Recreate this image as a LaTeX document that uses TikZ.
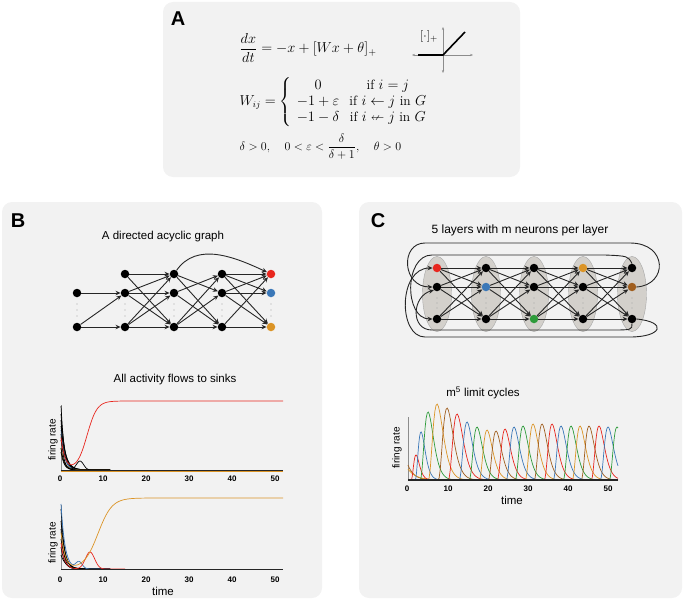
\documentclass[tikz,border=0pt]{standalone}
\usepackage{amsmath}
\usepackage{amssymb}
\usepackage{fontspec}
\setsansfont{Liberation Sans}
\usetikzlibrary{arrows.meta,shapes.geometric}

\definecolor{panelgray}{HTML}{F2F2F2}
\definecolor{layergray}{HTML}{D3D0CB}
\definecolor{sinkred}{HTML}{E8261E}
\definecolor{sinkblue}{HTML}{3B78B8}
\definecolor{sinkorange}{HTML}{DB9426}
\definecolor{cgreen}{HTML}{2E9B3A}
\definecolor{cbrown}{HTML}{A05E1E}

\begin{document}
\begin{tikzpicture}[x=1pt,y=-1pt,>={Stealth[length=5pt,width=4.5pt]},
  declare function={pulse(\t,\p,\h,\w)=\h*((\t-\p+\w)/\w)*((\t-\p+\w)/\w)*((\t-\p+\w)/\w)*exp(3-3*(\t-\p+\w)/\w);},
  panel/.style={fill=panelgray,rounded corners=10pt},
  tag/.style={font=\sffamily\bfseries\fontsize{20}{20}\selectfont},
  title/.style={font=\sffamily\fontsize{11.5}{13}\selectfont},
  tick/.style={font=\sffamily\bfseries\fontsize{8}{9}\selectfont,inner sep=0pt},
  axlabel/.style={font=\sffamily\fontsize{10}{11}\selectfont,inner sep=0pt},
  neuron/.style={circle,fill=black,inner sep=0pt,minimum size=8.5pt},
  layer/.style={draw=black!35,fill=layergray},
  dotsv/.style={fill=black!35},
  syn/.style={->,draw=black!85,line width=0.9pt},
  trace/.style={line width=0.7pt}]
\useasboundingbox (0,0) rectangle (685,602);

% panels
\fill[panel] (163,2) rectangle (520,177);
\fill[panel] (2,202) rectangle (322,598);
\fill[panel] (359,202) rectangle (682,598);
\node[tag] (tagA) at (178,19) {A};
\node[tag] (tagB) at (18,221) {B};
\node[tag] (tagC) at (378,221) {C};

% A: model
\node[anchor=west,font=\fontsize{14.5}{17}\selectfont] (ode) at (236,48) {$\displaystyle\frac{dx}{dt}=-x+[Wx+\theta]_+$};
\node[anchor=west,font=\fontsize{13.5}{16}\selectfont] (wij) at (236,102) {$W_{ij}=\left\{\begin{array}{cc} 0 & \text{if } i=j\\ -1+\varepsilon & \text{if } i\leftarrow j\text{ in } G\\ -1-\delta & \text{if } i\nleftarrow j\text{ in } G\end{array}\right.$};
\node[anchor=west,font=\fontsize{12.5}{14}\selectfont] (cond) at (236,147) {$\delta>0,\quad 0<\varepsilon<\dfrac{\delta}{\delta+1},\quad \theta>0$};
\draw[black!45,line width=0.6pt,{Stealth[length=3pt]}-{Stealth[length=3pt]}] (412,55) -- (473,55);
\draw[black!45,line width=0.6pt,{Stealth[length=3pt]}-{Stealth[length=3pt]}] (443,27) -- (443,73);
\draw[black,line width=1.6pt] (418,55) -- (443,55) -- (465,32);
\node[font=\fontsize{13}{14}\selectfont] (relu) at (429,37) {$[\cdot]_+$};

% B: graph
\node[title] (gtitle) at (163,237) {A directed acyclic graph};
\node[neuron] (g1a) at (77,293) {};
\node[neuron] (g1c) at (77,327) {};
\node[neuron] (g2a) at (125,274) {};
\node[neuron] (g2b) at (125,293) {};
\node[neuron] (g2c) at (125,327) {};
\node[neuron] (g3a) at (174,274) {};
\node[neuron] (g3b) at (174,293) {};
\node[neuron] (g3c) at (174,327) {};
\node[neuron] (g4a) at (222,274) {};
\node[neuron] (g4b) at (222,293) {};
\node[neuron] (g4c) at (222,327) {};
\node[neuron,fill=sinkred] (g5a) at (271,274) {};
\node[neuron,fill=sinkblue] (g5b) at (271,293) {};
\node[neuron,fill=sinkorange] (g5c) at (271,327) {};
\fill[dotsv] (77,304) circle (0.7) (77,310) circle (0.7) (77,316) circle (0.7);
\fill[dotsv] (125,304) circle (0.7) (125,310) circle (0.7) (125,316) circle (0.7);
\fill[dotsv] (174,304) circle (0.7) (174,310) circle (0.7) (174,316) circle (0.7);
\fill[dotsv] (222,304) circle (0.7) (222,310) circle (0.7) (222,316) circle (0.7);
\fill[dotsv] (271,304) circle (0.7) (271,310) circle (0.7) (271,316) circle (0.7);
\draw (g1a) edge[syn] (g2b);
\draw (g1c) edge[syn] (g2b) edge[syn] (g2c);
\draw (g2a) edge[syn] (g3a) edge[syn] (g3c);
\draw (g2b) edge[syn] (g3a) edge[syn] (g3b) edge[syn] (g3c);
\draw (g2c) edge[syn] (g3a) edge[syn] (g3b) edge[syn] (g3c);
\draw (g3a) edge[syn] (g4b) edge[syn] (g4c) edge[syn,out=55,in=155] (g5a);
\draw (g3b) edge[syn] (g4a) edge[syn] (g4c);
\draw (g3c) edge[syn] (g4a) edge[syn] (g4b) edge[syn] (g4c);
\draw (g4a) edge[syn] (g5a) edge[syn] (g5b) edge[syn] (g5c);
\draw (g4b) edge[syn] (g5a) edge[syn] (g5b) edge[syn] (g5c);
\draw (g4c) edge[syn] (g5a) edge[syn] (g5c);

% B: sink dynamics, top
\node[title] (stitle) at (175,380) {All activity flows to sinks};
\draw[black!45,line width=0.8pt] (61,405) -- (61,470);
\node[axlabel,rotate=90] (fr1) at (53,440) {firing rate};
\draw[trace,black] plot[domain=61:110,samples=40] (\x,{470-64*exp(-(\x-61)/3.2)});
\draw[trace,black] plot[domain=61:110,samples=40] (\x,{470-56*exp(-(\x-61)/3.8)});
\draw[trace,black] plot[domain=61:110,samples=40] (\x,{470-50*exp(-(\x-61)/3)});
\draw[trace,sinkblue] plot[domain=61:110,samples=40] (\x,{470-40*exp(-(\x-61)/3.4)});
\draw[trace,black] plot[domain=61:110,samples=40] (\x,{470-44*exp(-(\x-61)/4.5)});
\draw[trace,black] plot[domain=61:110,samples=40] (\x,{470-30*exp(-(\x-61)/5)});
\draw[trace,sinkorange] plot[domain=61:110,samples=40] (\x,{470-22*exp(-(\x-61)/3.5)});
\draw[trace,black] plot[domain=61:110,samples=40] (\x,{470-36*exp(-(\x-61)/2.6)});
\draw[trace,black] plot[domain=61:110,samples=40] (\x,{470-18*exp(-(\x-61)/3)});
\draw[trace,black] plot[domain=61:110,samples=40] (\x,{470-22*exp(-(\x-61)/3)-9*exp(-((\x-80)/5)^2)});
\draw[trace,sinkred] plot[domain=61:150,samples=80] (\x,{470-69/(1+exp(-(\x-87)/5))-32*exp(-(\x-61)/4)}) -- (283,401);
\draw[sinkorange,line width=0.8pt] (61,471) -- (283,471);
\draw[black!85,line width=1pt] (61,470) -- (283,470);
\node[tick] (t10) at (60,479) {0};
\node[tick] (t11) at (103,479) {10};
\node[tick] (t12) at (146,479) {20};
\node[tick] (t13) at (189,479) {30};
\node[tick] (t14) at (232,479) {40};
\node[tick] (t15) at (275,479) {50};

% B: sink dynamics, bottom
\draw[black!45,line width=0.8pt] (61,505) -- (61,569);
\node[axlabel,rotate=90] (fr2) at (53,543) {firing rate};
\draw[trace,black] plot[domain=61:110,samples=40] (\x,{569-60*exp(-(\x-61)/3.3)});
\draw[trace,black] plot[domain=61:110,samples=40] (\x,{569-48*exp(-(\x-61)/3.8)});
\draw[trace,black] plot[domain=61:110,samples=40] (\x,{569-40*exp(-(\x-61)/3)});
\draw[trace,black] plot[domain=61:110,samples=40] (\x,{569-30*exp(-(\x-61)/4.5)});
\draw[trace,black] plot[domain=61:110,samples=40] (\x,{569-22*exp(-(\x-61)/3.5)});
\draw[trace,black] plot[domain=61:110,samples=40] (\x,{569-14*exp(-(\x-61)/5)});
\draw[trace,sinkblue] plot[domain=61:110,samples=50] (\x,{569-65*exp(-(\x-61)/4)-7*exp(-((\x-79)/4.5)^2)});
\draw[trace,sinkred] plot[domain=61:125,samples=60] (\x,{569-17*exp(-((\x-90)/6.5)^2)-26*exp(-(\x-61)/3.5)});
\draw[trace,sinkorange] plot[domain=61:150,samples=80] (\x,{569-71/(1+exp(-(\x-98)/7))-36*exp(-(\x-61)/4)}) -- (283,498);
\draw[black!85,line width=1pt] (61,569) -- (283,569);
\node[tick] (t20) at (60,580) {0};
\node[tick] (t21) at (103,580) {10};
\node[tick] (t22) at (146,580) {20};
\node[tick] (t23) at (189,580) {30};
\node[tick] (t24) at (232,580) {40};
\node[tick] (t25) at (275,580) {50};
\node[title] (time1) at (163,591) {time};

% C: layered graph
\node[title,font=\sffamily\fontsize{12}{14}\selectfont] (ctitle) at (520,230) {5 layers with m neurons per layer};
\filldraw[layer] (437,294) ellipse [x radius=14.5, y radius=37.5];
\filldraw[layer] (486,294) ellipse [x radius=14.5, y radius=37.5];
\filldraw[layer] (534,294) ellipse [x radius=14.5, y radius=37.5];
\filldraw[layer] (583,294) ellipse [x radius=14.5, y radius=37.5];
\filldraw[layer] (632,294) ellipse [x radius=14.5, y radius=37.5];
\fill[dotsv] (437,298) circle (0.6) (437,303) circle (0.6) (437,308) circle (0.6);
\fill[dotsv] (486,298) circle (0.6) (486,303) circle (0.6) (486,308) circle (0.6);
\fill[dotsv] (534,298) circle (0.6) (534,303) circle (0.6) (534,308) circle (0.6);
\fill[dotsv] (583,298) circle (0.6) (583,303) circle (0.6) (583,308) circle (0.6);
\fill[dotsv] (632,298) circle (0.6) (632,303) circle (0.6) (632,308) circle (0.6);
\node[neuron,fill=sinkred] (c1a) at (437,268) {};
\node[neuron] (c1b) at (437,287) {};
\node[neuron] (c1c) at (437,319) {};
\node[neuron] (c2a) at (486,268) {};
\node[neuron,fill=sinkblue] (c2b) at (486,287) {};
\node[neuron] (c2c) at (486,319) {};
\node[neuron] (c3a) at (534,268) {};
\node[neuron] (c3b) at (534,287) {};
\node[neuron,fill=cgreen] (c3c) at (534,319) {};
\node[neuron,fill=sinkorange] (c4a) at (583,268) {};
\node[neuron] (c4b) at (583,287) {};
\node[neuron] (c4c) at (583,319) {};
\node[neuron] (c5a) at (632,268) {};
\node[neuron,fill=cbrown] (c5b) at (632,287) {};
\node[neuron] (c5c) at (632,319) {};
\draw (c1a) edge[syn] (c2a) edge[syn] (c2b) edge[syn] (c2c);
\draw (c1b) edge[syn] (c2a) edge[syn] (c2b) edge[syn] (c2c);
\draw (c1c) edge[syn] (c2a) edge[syn] (c2b) edge[syn] (c2c);
\draw (c2a) edge[syn] (c3a) edge[syn] (c3b) edge[syn] (c3c);
\draw (c2b) edge[syn] (c3a) edge[syn] (c3b) edge[syn] (c3c);
\draw (c2c) edge[syn] (c3a) edge[syn] (c3b) edge[syn] (c3c);
\draw (c3a) edge[syn] (c4a) edge[syn] (c4b) edge[syn] (c4c);
\draw (c3b) edge[syn] (c4a) edge[syn] (c4b) edge[syn] (c4c);
\draw (c3c) edge[syn] (c4a) edge[syn] (c4b) edge[syn] (c4c);
\draw (c4a) edge[syn] (c5a) edge[syn] (c5b) edge[syn] (c5c);
\draw (c4b) edge[syn] (c5a) edge[syn] (c5b) edge[syn] (c5c);
\draw (c4c) edge[syn] (c5a) edge[syn] (c5b) edge[syn] (c5c);
% last layer feeds back to the first
\draw[syn] (c5b.east) .. controls (668,285) and (668,243) .. (630,243) -- (425,243) .. controls (400,243) and (402,287) .. (c1b.west);
\draw[syn] (c5a.north) .. controls (628,256) .. (605,255) -- (432,255) .. controls (404,255) and (404,319) .. (c1c.west);
\draw[syn] (c5c.east) .. controls (668,322) and (662,337) .. (630,337) -- (425,337) .. controls (398,337) and (398,268) .. (c1a.west);
\draw[syn] (c5c.south) .. controls (632,330) .. (610,330) -- (432,330) .. controls (410,330) and (412,296) .. (c1b.south west);

% C: limit cycles
\node[title] (ptitle) at (483,393) {m\textsuperscript{5} limit cycles};
\draw[black!45,line width=0.8pt] (408,417) -- (408,480);
\node[axlabel,rotate=90] (fr3) at (397,448) {firing rate};
\draw[trace,cbrown] plot[domain=408:445,samples=30] (\x,{480-15*exp(-(\x-408)/6)});
\draw[trace,sinkorange] plot[domain=408:445,samples=30] (\x,{480-11*exp(-(\x-408)/8)});
\draw[trace,sinkred] plot[domain=411:431,samples=40] (\x,{480-pulse(\x,416,25,5)});
\draw[trace,sinkblue] plot[domain=415:445,samples=40] (\x,{480-pulse(\x,421,48,6)});
\draw[trace,cgreen] plot[domain=420:460,samples=40] (\x,{480-pulse(\x,428,68,8)});
\draw[trace,sinkorange] plot[domain=428:473,samples=40] (\x,{480-pulse(\x,437,76,9)});
\draw[trace,cbrown] plot[domain=438:483,samples=40] (\x,{480-pulse(\x,447,72,9)});
\draw[trace,sinkred] plot[domain=448:493,samples=40] (\x,{480-pulse(\x,457,66,9)});
\draw[trace,sinkblue] plot[domain=459:499,samples=40] (\x,{480-pulse(\x,467,58,8)});
\draw[trace,cgreen] plot[domain=469:509,samples=40] (\x,{480-pulse(\x,477,53,8)});
\draw[trace,sinkorange] plot[domain=479:519,samples=40] (\x,{480-pulse(\x,487,50,8)});
\draw[trace,cbrown] plot[domain=488:528,samples=40] (\x,{480-pulse(\x,496,49,8)});
\draw[trace,sinkred] plot[domain=497:537,samples=40] (\x,{480-pulse(\x,505,51,8)});
\draw[trace,sinkblue] plot[domain=506:546,samples=40] (\x,{480-pulse(\x,514,53,8)});
\draw[trace,cgreen] plot[domain=515:555,samples=40] (\x,{480-pulse(\x,523,54,8)});
\draw[trace,sinkorange] plot[domain=525:565,samples=40] (\x,{480-pulse(\x,533,56,8)});
\draw[trace,cbrown] plot[domain=534:574,samples=40] (\x,{480-pulse(\x,542,56,8)});
\draw[trace,sinkred] plot[domain=544:584,samples=40] (\x,{480-pulse(\x,552,56,8)});
\draw[trace,sinkblue] plot[domain=553:593,samples=40] (\x,{480-pulse(\x,561,54,8)});
\draw[trace,cgreen] plot[domain=563:603,samples=40] (\x,{480-pulse(\x,571,54,8)});
\draw[trace,sinkorange] plot[domain=572:612,samples=40] (\x,{480-pulse(\x,580,54,8)});
\draw[trace,cbrown] plot[domain=581:618,samples=40] (\x,{480-pulse(\x,589,54,8)});
\draw[trace,sinkred] plot[domain=591:618,samples=40] (\x,{480-pulse(\x,599,54,8)});
\draw[trace,sinkblue] plot[domain=600:618,samples=30] (\x,{480-pulse(\x,608,53,8)});
\draw[trace,cgreen] plot[domain=609:618,samples=20] (\x,{480-pulse(\x,617,53,8)});
\draw[black!85,line width=1.2pt] (408,480) -- (618,480);
\node[tick] (t30) at (407,489) {0};
\node[tick] (t31) at (448,489) {10};
\node[tick] (t32) at (488,489) {20};
\node[tick] (t33) at (528,489) {30};
\node[tick] (t34) at (568,489) {40};
\node[tick] (t35) at (608,489) {50};
\node[title] (time2) at (512,500) {time};
\end{tikzpicture}
\end{document}
